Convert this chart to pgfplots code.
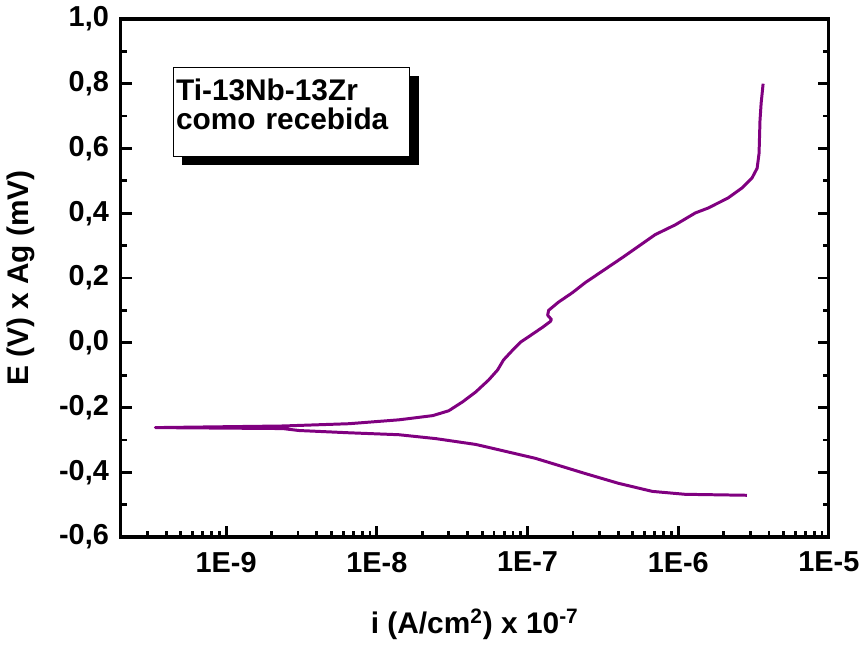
\documentclass[border=0pt]{standalone}
\usepackage{fontspec}
\setmainfont{Liberation Sans}
\usepackage{pgfplots}
\pgfplotsset{compat=1.18}
\usetikzlibrary{shadows}
\definecolor{curve}{RGB}{128,0,128}

\begin{document}
\begin{tikzpicture}
\begin{axis}[
    scale only axis,
    width=356pt, height=260.5pt,
    xmode=log, log basis x=10,
    xmin=2e-10, xmax=1e-5,
    ymin=-0.6, ymax=1.0,
    xtick={1e-9,1e-8,1e-7,1e-6,1e-5},
    xticklabels={1E-9,1E-8,1E-7,1E-6,1E-5},
    minor xtick={2e-10,3e-10,4e-10,5e-10,6e-10,7e-10,8e-10,9e-10,
                 2e-9,3e-9,4e-9,5e-9,6e-9,7e-9,8e-9,9e-9,
                 2e-8,3e-8,4e-8,5e-8,6e-8,7e-8,8e-8,9e-8,
                 2e-7,3e-7,4e-7,5e-7,6e-7,7e-7,8e-7,9e-7,
                 2e-6,3e-6,4e-6,5e-6,6e-6,7e-6,8e-6,9e-6},
    ytick={-0.6,-0.4,-0.2,0,0.2,0.4,0.6,0.8,1.0},
    yticklabels={{-0,6},{-0,4},{-0,2},{0,0},{0,2},{0,4},{0,6},{0,8},{1,0}},
    minor ytick={-0.5,-0.3,-0.1,0.1,0.3,0.5,0.7,0.9},
    xtick pos=bottom, ytick pos=both,
    tick align=inside,
    major tick length=5.5pt, minor tick length=3pt,
    every tick/.style={line width=1.4pt, black},
    axis line style={line width=1.6pt},
    tick label style={font=\bfseries\fontsize{14.5}{16}\selectfont},
    xticklabel style={yshift=-4pt},
    yticklabel style={xshift=-2.5pt},
    label style={font=\bfseries\fontsize{15}{18}\selectfont},
    xlabel={i (A/cm\textsuperscript{2}) x 10\textsuperscript{-7}},
    ylabel={E (V) x Ag (mV)},
    xlabel shift=11.5pt,
    ylabel shift=5.5pt,
]

% cathodic branch (reversed) then anodic branch
\addplot[curve, line width=1.5pt, line join=round] table {
x y
2.86e-6 -0.471
1.11e-6 -0.468
6.73e-7 -0.459
4.01e-7 -0.434
2.42e-7 -0.404
1.13e-7 -0.357
5.27e-8 -0.321
4.53e-8 -0.314
2.46e-8 -0.296
1.40e-8 -0.284
6.53e-9 -0.278
3.04e-9 -0.271
2.38e-9 -0.265
3.39e-10 -0.262
2.38e-9 -0.257
6.53e-9 -0.250
1.40e-8 -0.238
2.35e-8 -0.225
3.00e-8 -0.210
3.72e-8 -0.182
4.53e-8 -0.152
5.52e-8 -0.115
6.33e-8 -0.084
6.93e-8 -0.053
7.96e-8 -0.023
8.99e-8 0.002
1.05e-7 0.023
1.26e-7 0.048
1.42e-7 0.066
1.44e-7 0.072
1.36e-7 0.085
1.38e-7 0.100
1.60e-7 0.125
1.99e-7 0.155
2.42e-7 0.186
3.04e-7 0.217
4.26e-7 0.263
7.04e-7 0.334
9.55e-7 0.364
1.30e-6 0.401
1.58e-6 0.416
2.14e-6 0.447
2.65e-6 0.478
3.09e-6 0.509
3.34e-6 0.539
3.44e-6 0.585
3.49e-6 0.687
3.55e-6 0.739
3.66e-6 0.800
};

\node[anchor=north west, draw=black, line width=0.6pt, fill=white,
      align=left, inner xsep=1.5pt, inner ysep=6pt, text width=116pt,
      font=\bfseries\fontsize{15}{14.5}\selectfont,
      drop shadow={shadow xshift=4.5pt, shadow yshift=-4.5pt, fill=black, opacity=1}]
  at (axis description cs:0.073,0.908) {Ti-13Nb-13Zr\\como recebida\rule[-7.5pt]{0pt}{0pt}};

% empty nodes that give the page the reference's margins
\node[inner sep=0pt, outer sep=0pt, minimum size=0pt] at (axis description cs:0,1) [yshift=12.5pt] {};
\node[inner sep=0pt, outer sep=0pt, minimum size=0pt] at (axis description cs:0,0) [xshift=-61pt, yshift=-50pt] {};
\node[inner sep=0pt, outer sep=0pt, minimum size=0pt] at (axis description cs:1,0) [xshift=16pt] {};
\end{axis}
\end{tikzpicture}
\end{document}
